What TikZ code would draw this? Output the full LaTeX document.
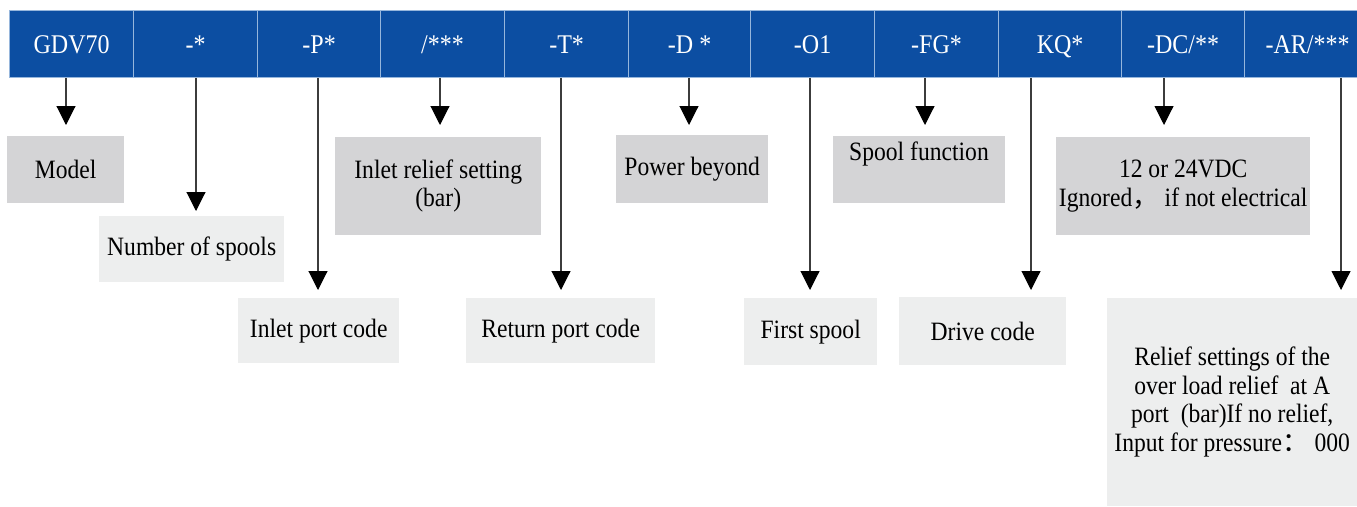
\documentclass[tikz,border=0pt]{standalone}
\usepackage{fontspec}
\setmainfont[FakeStretch=0.89]{Liberation Serif}
\newfontfamily\cjk{Noto Sans CJK SC}
\usetikzlibrary{arrows.meta}
\definecolor{hdrblue}{RGB}{12,78,162}
\definecolor{hdrline}{RGB}{150,182,220}
\definecolor{boxdark}{RGB}{212,212,214}
\definecolor{boxlight}{RGB}{237,238,238}
\definecolor{shaft}{RGB}{60,60,60}
\tikzset{
  hcell/.style={draw=hdrline, line width=1.2pt, fill=hdrblue, text=white,
    minimum height=67pt, inner sep=0pt, anchor=north west,
    text height=19pt, text depth=0pt,
    font=\fontsize{27pt}{30pt}\selectfont},
  dbox/.style={fill=boxdark, inner sep=0pt, anchor=north west,
    font=\fontsize{26.5pt}{28.5pt}\selectfont, align=center},
  lbox/.style={dbox, fill=boxlight},
  btext/.style={inner sep=0pt, font=\fontsize{26.5pt}{28.5pt}\selectfont, align=center},
  darr/.style={draw=shaft, line width=1.1pt,
    -{Triangle[width=19pt,length=19pt,color=black]}},
}
\begin{document}
\begin{tikzpicture}[x=1pt,y=-1pt]
\useasboundingbox (0,0) rectangle (1357,506);
\fill[white] (0,0) rectangle (1357,506);

% header cells
\node[hcell, minimum width=124pt] (h1)  at (9,10)    {GDV70};
\node[hcell, minimum width=124pt] (h2)  at (133,10)  {-*};
\node[hcell, minimum width=123pt] (h3)  at (257,10)  {-P*};
\node[hcell, minimum width=124pt] (h4)  at (380,10)  {/***};
\node[hcell, minimum width=124pt] (h5)  at (504,10)  {-T*};
\node[hcell, minimum width=122pt] (h6)  at (628,10)  {-D *};
\node[hcell, minimum width=124pt] (h7)  at (750,10)  {-O1};
\node[hcell, minimum width=124pt] (h8)  at (874,10)  {-FG*};
\node[hcell, minimum width=123pt] (h9)  at (998,10)  {KQ*};
\node[hcell, minimum width=123pt] (h10) at (1121,10) {-DC/**};
\node[hcell, minimum width=126pt] (h11) at (1244,10) {-AR/***};

% upper row (dark boxes)
\node[dbox, minimum width=117pt, minimum height=67pt] (model) at (7,136) {Model};
\node[dbox, minimum width=206pt, minimum height=98pt] (inrel) at (335,137) {Inlet relief setting\\(bar)};
\node[dbox, minimum width=152pt, minimum height=68pt] (power) at (616,135) {Power beyond};
\node[dbox, minimum width=172pt, minimum height=67pt] (spool) at (833,136) {};
\node[btext] (spooltxt) at (919,154) {Spool function};
\node[dbox, minimum width=254pt, minimum height=98pt] (volt) at (1056,137) {12 or 24VDC\\Ignored{\cjk ，} if not electrical};

% lower boxes (light)
\node[lbox, minimum width=185pt, minimum height=66pt] (nspool) at (99,216) {Number of spools};
\node[lbox, minimum width=161pt, minimum height=65pt] (inport) at (238,298) {Inlet port code};
\node[lbox, minimum width=189pt, minimum height=65pt] (retport) at (466,298) {Return port code};
\node[lbox, minimum width=133pt, minimum height=67pt] (first) at (744,298) {First spool};
\node[lbox, minimum width=167pt, minimum height=68pt] (drive) at (899,297) {Drive code};
\node[lbox, minimum width=250pt, minimum height=208pt] (relief) at (1107,298)
  {Relief settings of the\\over load relief~~at A\\port~~(bar)If no relief,\\Input for pressure{\cjk ：} 000};

% arrow tips
\coordinate (t1)  at (66,125);
\coordinate (t2)  at (196,211);
\coordinate (t3)  at (318,290);
\coordinate (t4)  at (440,125);
\coordinate (t5)  at (561,290);
\coordinate (t6)  at (689,125);
\coordinate (t7)  at (810,290);
\coordinate (t8)  at (925,125);
\coordinate (t9)  at (1031,290);
\coordinate (t10) at (1164,125);
\coordinate (t11) at (1341,290);

\foreach \i in {1,...,11} {
  \draw[darr] (h\i.south -| t\i) -- (t\i);
}
\end{tikzpicture}
\end{document}
